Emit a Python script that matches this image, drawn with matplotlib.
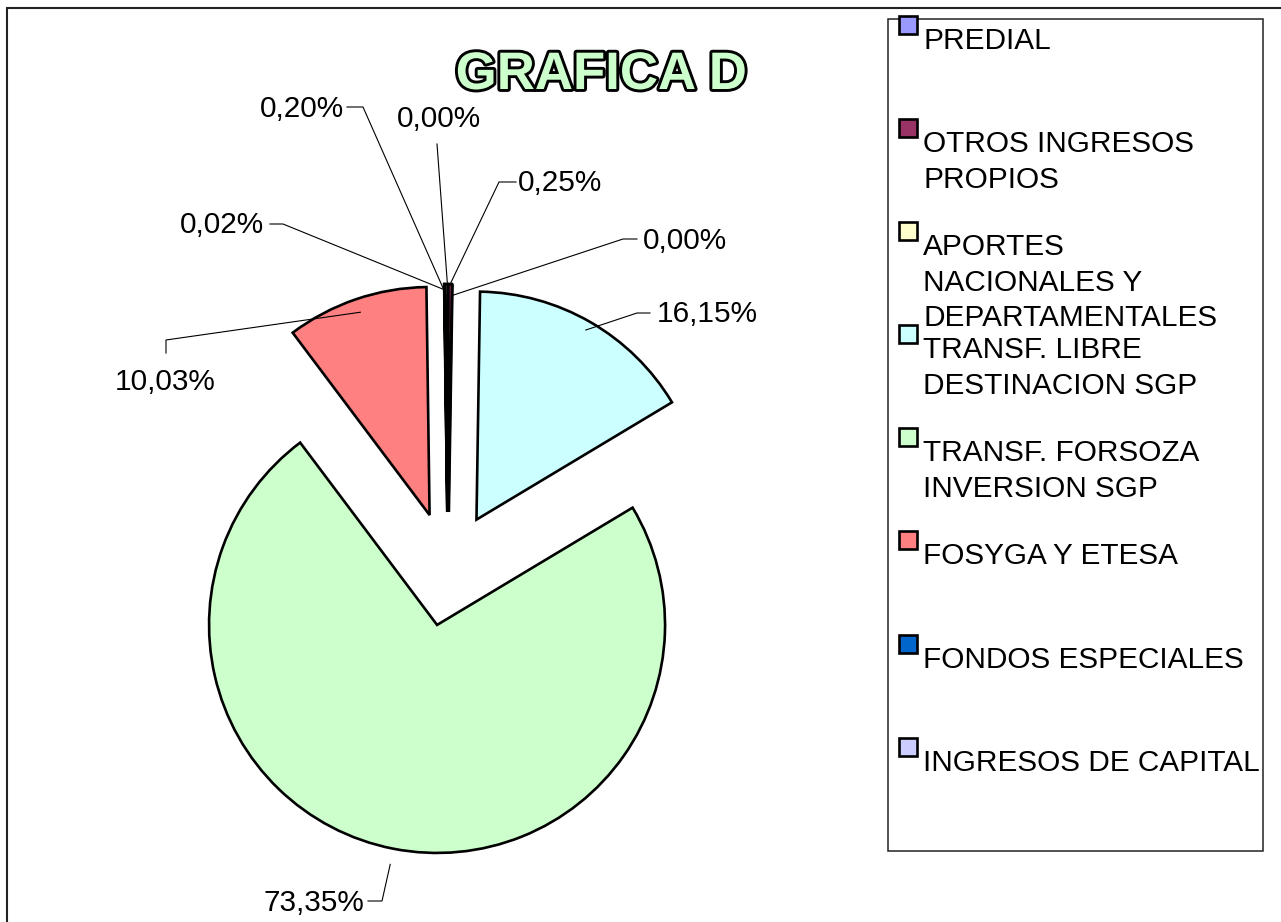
import numpy as np
import matplotlib.pyplot as plt
import matplotlib.patheffects as pe
from matplotlib.patches import Rectangle

# datos de la grafica
categorias = ['PREDIAL', 'OTROS INGRESOS\nPROPIOS', 'APORTES\nNACIONALES Y\nDEPARTAMENTALES',
              'TRANSF. LIBRE\nDESTINACION SGP', 'TRANSF. FORSOZA\nINVERSION SGP',
              'FOSYGA Y ETESA', 'FONDOS ESPECIALES', 'INGRESOS DE CAPITAL']
porcentajes = [0.00, 0.25, 0.00, 16.15, 73.35, 10.03, 0.02, 0.20]
colores = ['#9999FF', '#993366', '#FFFFCC', '#CCFFFF', '#CCFFCC', '#FF8080', '#0066CC', '#CCCCFF']

W, H = 1281, 922
FONT = 'Liberation Sans'


def px(x, y):
    # coordenadas de imagen (y hacia abajo) -> coordenadas del eje
    return x, H - y


fig = plt.figure(figsize=(W / 100, H / 100), dpi=100)
ax = fig.add_axes([0, 0, 1, 1])

radio = 228
centro = px(448, 569)
wedges, _ = ax.pie(porcentajes, colors=colores, startangle=90, counterclock=False,
                   radius=radio, center=centro, explode=[0.25 * radio] * len(porcentajes),
                   wedgeprops=dict(edgecolor='black', linewidth=1.9), frame=True)
ax.set_xlim(0, W)
ax.set_ylim(0, H)
ax.axis('off')

# etiquetas de porcentaje con lineas guia (posiciones en pixeles de imagen)
pos_texto = [(439, 127, 'center'), (518, 191, 'left'), (643, 249, 'left'), (657, 322, 'left'),
             (364, 911, 'right'), (165, 390, 'center'), (264, 233, 'right'), (344, 117, 'right')]
codos = [[(437, 144)], [(516, 182), (499, 182)], [(637, 239), (623, 239)],
         [(650, 313), (637, 313)], [(368, 901), (382, 901)], [(166, 353), (166, 340)],
         [(270, 224), (283, 224)], [(347, 107), (363, 107)]]
frac_final = [0.965, 1.0, 0.95, 0.96, 1.07, 0.94, 0.975, 0.95]

for w, v, (tx, ty, ha), cod, fr in zip(wedges, porcentajes, pos_texto, codos, frac_final):
    txt = f'{v:.2f}%'.replace('.', ',')
    ax.text(*px(tx, ty), txt, ha=ha, va='baseline', fontsize=21.4, family=FONT)
    mid = np.deg2rad((w.theta1 + w.theta2) / 2)
    fin = (w.center[0] + fr * w.r * np.cos(mid), w.center[1] + fr * w.r * np.sin(mid))
    pts = [px(x, y) for x, y in cod] + [fin]
    ax.plot([p[0] for p in pts], [p[1] for p in pts], color='black', lw=0.8, zorder=5)

# titulo
ax.text(*px(601, 89), 'GRAFICA D', ha='center', va='baseline', fontsize=38,
        fontweight='bold', family=FONT, color='#CCFFCC',
        path_effects=[pe.withStroke(linewidth=4.2, foreground='black')])

# leyenda
ax.add_patch(Rectangle(px(888, 851), 375, 832, fill=False, edgecolor='#222222', lw=1.1))
paso = 103.1
for i, (cat, col) in enumerate(zip(categorias, colores)):
    top = 28 + i * paso
    ax.add_patch(Rectangle(px(899, top - 12 + 18), 18, 18, facecolor=col,
                           edgecolor='black', lw=1.9, zorder=6))
    for j, linea in enumerate(cat.split('\n')):
        ax.text(*px(923, top + 21 + j * 35.5), linea, ha='left', va='baseline',
                fontsize=21.4, family=FONT)

# marco exterior
ax.plot([7, 7, W], [0, H - 8, H - 8], color='#222222', lw=1.5, solid_joinstyle='miter')

fig.savefig('out.png', dpi=100)
